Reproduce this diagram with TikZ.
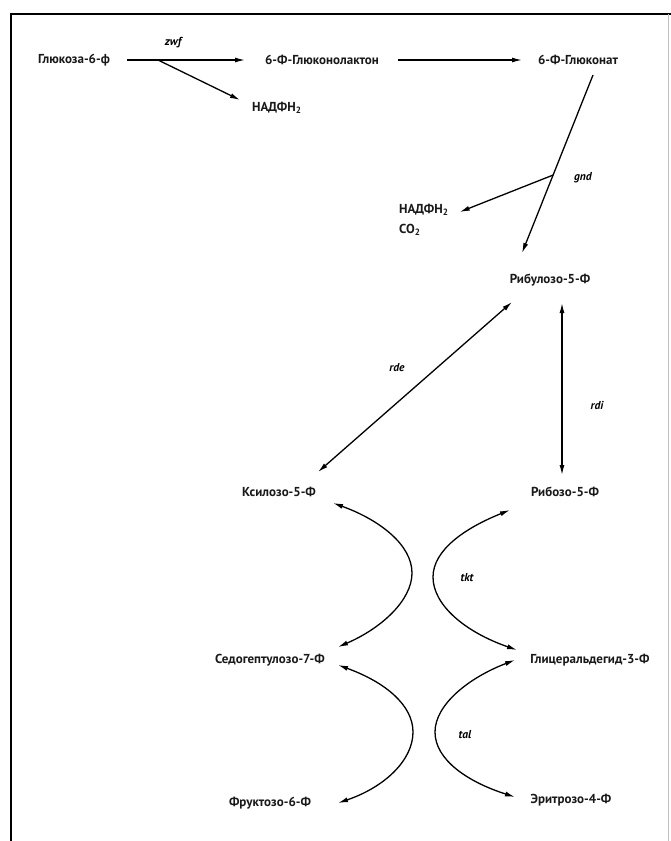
\documentclass[tikz,border=0pt]{standalone}
\usepackage{fontspec}
\setmainfont{PT Sans}
\usetikzlibrary{calc,arrows.meta}
\begin{document}
\begin{tikzpicture}[x=1pt,y=-1pt,
  met/.style={font=\bfseries\fontsize{13}{15}\selectfont, inner sep=0pt, text=black!90},
  gene/.style={font=\bfseries\itshape\fontsize{11.5}{13}\selectfont, inner sep=0pt},
  arr/.style={line width=1.3pt, -{Latex[length=10pt,width=5pt]}},
  darr/.style={line width=1.3pt, {Latex[length=10pt,width=5pt]}-{Latex[length=10pt,width=5pt]}},
  plain/.style={line width=1.3pt}]
\useasboundingbox (0,0) rectangle (671,841);
\fill[white] (0,0) rectangle (671,841);
% frame
\draw[line width=1.6pt] (11,841) -- (11,14) -- (671,14);
\draw[black!25, line width=0.6pt] (668,14) -- (668,841);
% metabolites
\node[met] (g6f) at (74,60) {Глюкоза-6-ф};
\node[met] (lac) at (322,60) {6-Ф-Глюконолактон};
\node[met] (glc) at (578,60) {6-Ф-Глюконат};
\node[met, anchor=west] (nadph1) at (252,108) {НАДФН\textsubscript{2}};
\node[met, anchor=west] (nadph2) at (399,210) {НАДФН\textsubscript{2}};
\node[met, anchor=west] (co2) at (399,230) {CO\textsubscript{2}};
\node[met] (ru5p) at (550,280) {Рибулозо-5-Ф};
\node[met] (xu5p) at (279,492) {Ксилозо-5-Ф};
\node[met] (r5p) at (565,492) {Рибозо-5-Ф};
\node[met] (s7p) at (270,660) {Седогептулозо-7-Ф};
\node[met] (g3p) at (590,660) {Глицеральдегид-3-Ф};
\node[met] (f6p) at (270,803) {Фруктозо-6-Ф};
\node[met] (e4p) at (571,800) {Эритрозо-4-Ф};
% gene labels
\node[gene] (zwf) at (173,43) {zwf};
\node[gene] (gnd) at (583,178) {gnd};
\node[gene] (rde) at (397,368) {rde};
\node[gene] (rdi) at (597,405) {rdi};
\node[gene] (tkt) at (467,578) {tkt};
\node[gene] (tal) at (465,735) {tal};
% zwf
\coordinate (z0) at ($(g6f)+(53,0)$);
\coordinate (z1) at ($(lac)+(-77,0)$);
\coordinate (zb) at ($(g6f)+(84,0)$);
\draw[arr] (z0) -- (z1);
\draw[arr] (zb) -- ($(nadph1.west)+(-12,-8)$);
% lactone -> gluconate
\draw[arr] ($(lac)+(76,0)$) -- ($(glc)+(-56,0)$);
% gnd
\coordinate (gs) at ($(glc)+(15,15)$);
\coordinate (ge) at ($(ru5p)+(-28,-27)$);
\draw[arr] (gs) -- (ge);
\coordinate (gb) at ($(gs)!0.562!(ge)$);
\draw[arr] (gb) -- ($(nadph2.east)+(11,2)$);
% rde
\draw[darr] ($(xu5p)+(39,-20)$) -- ($(ru5p)+(-38,22)$);
% rpi
\draw[darr] ($(r5p)+(-3,-17)$) -- ($(ru5p)+(12,23)$);
% tkt
\coordinate (t1a) at ($(xu5p)+(54,11)$);
\coordinate (t1b) at ($(s7p)+(68,-13)$);
\draw[darr] (t1a) .. controls (380,520) and (412,545) .. (412,573) .. controls (412,600) and (382,628) .. (t1b);
\coordinate (t2a) at ($(r5p)+(-55,18)$);
\coordinate (t2b) at ($(g3p)+(-73,-10)$);
\draw[darr] (t2a) .. controls (465,528) and (433,550) .. (433,577) .. controls (433,605) and (465,632) .. (t2b);
% tal
\coordinate (a1a) at ($(s7p)+(68,5)$);
\coordinate (a1b) at ($(f6p)+(68,0)$);
\draw[darr] (a1a) .. controls (385,682) and (413,705) .. (413,732) .. controls (413,760) and (385,787) .. (a1b);
\coordinate (a2a) at ($(g3p)+(-75,0)$);
\coordinate (a2b) at ($(e4p)+(-56,-3)$);
\draw[darr] (a2a) .. controls (468,678) and (435,705) .. (435,732) .. controls (435,760) and (468,782) .. (a2b);
\end{tikzpicture}
\end{document}
